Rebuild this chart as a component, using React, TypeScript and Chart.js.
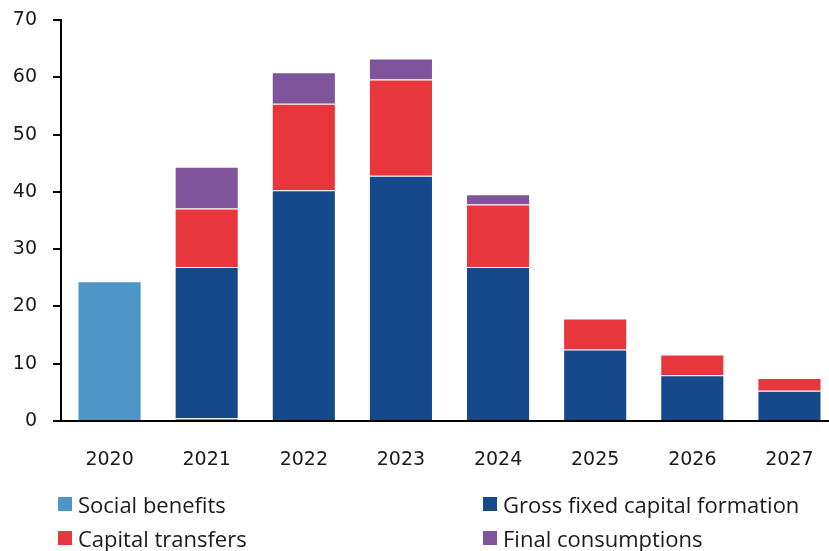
import React, { useEffect, useRef } from "react";
import { Chart, registerables } from "chart.js";

Chart.register(...registerables);

const years = ["2020", "2021", "2022", "2023", "2024", "2025", "2026", "2027"];
const socialBenefits = [24.4, 0.5, null, null, null, null, null, null];
const grossFixedCapital = [null, 26.4, 40.3, 42.8, 26.9, 12.5, 8.0, 5.3];
const capitalTransfers = [null, 10.2, 15.1, 16.8, 10.9, 5.4, 3.6, 2.2];
const finalConsumptions = [null, 7.3, 5.5, 3.7, 1.8, null, null, null];
const yTicks = [0, 10, 20, 30, 40, 50, 60, 70];

const COLORS = {
  social: "#4d95c6",
  gfcf: "#16488c",
  ct: "#e8363d",
  fc: "#80549b",
};

const legendItems = [
  { label: "Social benefits", color: COLORS.social, x: 58, y: 498 },
  { label: "Gross fixed capital formation", color: COLORS.gfcf, x: 483, y: 498 },
  { label: "Capital transfers", color: COLORS.ct, x: 58, y: 532 },
  { label: "Final consumptions", color: COLORS.fc, x: 483, y: 532 },
];

export default function App() {
  const ref = useRef<HTMLCanvasElement | null>(null);

  useEffect(() => {
    if (!ref.current) return;
    const mk = (label: string, data: (number | null)[], color: string) => ({
      label,
      data,
      backgroundColor: color,
      borderColor: "rgba(255,255,255,0.22)",
      borderWidth: 1,
      barPercentage: 0.66,
      categoryPercentage: 1,
    });
    const chart = new Chart(ref.current, {
      type: "bar",
      data: {
        labels: years,
        datasets: [
          mk("Social benefits", socialBenefits, COLORS.social),
          mk("Gross fixed capital formation", grossFixedCapital, COLORS.gfcf),
          mk("Capital transfers", capitalTransfers, COLORS.ct),
          mk("Final consumptions", finalConsumptions, COLORS.fc),
        ],
      },
      options: {
        responsive: false,
        animation: false,
        layout: { padding: { left: 0, right: 2, top: 20, bottom: 70 } },
        plugins: { legend: { display: false }, tooltip: { enabled: false } },
        scales: {
          x: {
            stacked: true,
            grid: { display: true, drawOnChartArea: false, drawTicks: false },
            border: { display: true, color: "#000", width: 2 },
            ticks: {
              color: "#1a1a1a",
              font: { family: "DejaVu Sans", size: 19 },
              padding: 28,
            },
            afterFit: (s: any) => {
              s.height = 60;
              s.paddingLeft = 0;
              s.paddingRight = 0;
            },
          },
          y: {
            stacked: true,
            min: 0,
            max: 70,
            afterBuildTicks: (s: any) => {
              s.ticks = yTicks.map((v) => ({ value: v }));
            },
            grid: {
              display: true,
              drawOnChartArea: false,
              drawTicks: true,
              tickLength: 8,
              color: "#000",
              lineWidth: 2,
            },
            border: { display: true, color: "#000", width: 2 },
            ticks: {
              color: "#1a1a1a",
              font: { family: "DejaVu Sans", size: 19 },
              padding: 16,
            },
            afterFit: (s: any) => {
              s.width = 61;
              s.paddingTop = 0;
              s.paddingBottom = 0;
            },
          },
        },
      },
    });
    return () => chart.destroy();
  }, []);

  return (
    <div
      style={{
        position: "absolute",
        left: 0,
        top: 0,
        width: 829,
        height: 551,
        overflow: "hidden",
        background: "#fff",
      }}
    >
      <canvas ref={ref} width={840} height={551} style={{ display: "block" }} />
      {legendItems.map((it) => (
        <div
          key={it.label}
          style={{
            position: "absolute",
            left: it.x,
            top: it.y - 7,
            height: 26,
            display: "flex",
            alignItems: "center",
            fontFamily: "'Open Sans', sans-serif",
            fontSize: 22,
            color: "#1a1a1a",
            whiteSpace: "nowrap",
          }}
        >
          <span
            style={{
              display: "inline-block",
              width: 14,
              height: 14,
              background: it.color,
              marginRight: 6,
            }}
          />
          {it.label}
        </div>
      ))}
    </div>
  );
}
